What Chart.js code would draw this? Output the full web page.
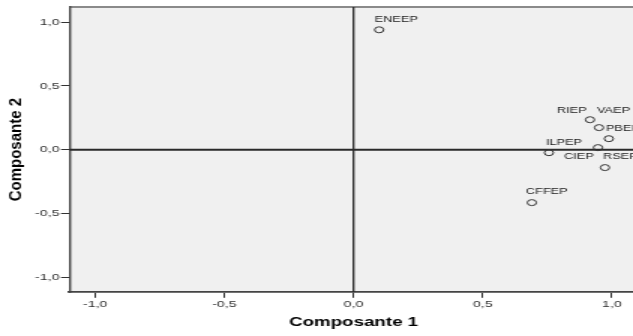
<!DOCTYPE html>
<html>
<head>
<meta charset="utf-8">
<script src="https://cdn.jsdelivr.net/npm/chart.js@4.4.1/dist/chart.umd.min.js"></script>
<style>
  html, body { margin: 0; padding: 0; background: #ffffff; overflow: hidden; width: 633px; height: 336px; }
  #wrap { position: absolute; left: 0; top: 0; width: 432px; height: 336px; transform: scaleX(1.5); transform-origin: 0 0; }
</style>
</head>
<body>
<div id="wrap"><canvas id="c"></canvas></div>
<script>
// ---- data ----
const labels = ['ENEEP', 'RIEP', 'VAEP', 'PBEP', 'CIEP', 'ILPEP', 'RSEP', 'CFFEP'];
const comp1  = [0.099, 0.915, 0.950, 0.988, 0.946, 0.756, 0.973, 0.690];
const comp2  = [0.941, 0.235, 0.173, 0.086, 0.016, -0.024, -0.141, -0.416];
const xTicks = [-1, -0.5, 0, 0.5, 1];
const yTicks = [-1, -0.5, 0, 0.5, 1];
const xTickLabels = ['-1,0', '-0,5', '0,0', '0,5', '1,0'];
const yTickLabels = ['-1,0', '-0,5', '0,0', '0,5', '1,0'];
const xTitle = 'Composante 1';
const yTitle = 'Composante 2';

const points = labels.map((l, i) => ({ x: comp1[i], y: comp2[i] }));

const FONT = '"Liberation Sans", Arial, sans-serif';

const framePlugin = {
  id: 'frame',
  beforeDraw(chart) {
    const { ctx, chartArea: a } = chart;
    ctx.save();
    ctx.fillStyle = '#f0f0f0';
    ctx.fillRect(a.left, a.top, a.right - a.left, a.bottom - a.top);
    ctx.strokeStyle = '#8a8a8a';
    ctx.lineWidth = 2;
    ctx.beginPath();
    ctx.moveTo(a.left, a.top);
    ctx.lineTo(a.right + 10, a.top);
    ctx.stroke();
    ctx.restore();
  },
  beforeDatasetsDraw(chart) {
    const { ctx, chartArea: a, scales } = chart;
    const x0 = scales.x.getPixelForValue(0);
    const y0 = scales.y.getPixelForValue(0);
    ctx.save();
    ctx.strokeStyle = '#2a2a2a';
    ctx.lineWidth = 1.3;
    ctx.beginPath();
    ctx.moveTo(x0, a.top);
    ctx.lineTo(x0, a.bottom);
    ctx.stroke();
    ctx.lineWidth = 2;
    ctx.beginPath();
    ctx.moveTo(a.left, y0);
    ctx.lineTo(a.right, y0);
    ctx.stroke();
    ctx.restore();
  },
  afterDraw(chart, args, opts) {
    // vertical axis title, drawn with a narrower glyph height to match the reference
    const { ctx, chartArea: a } = chart;
    ctx.save();
    ctx.translate(opts.yTitleX, (a.top + a.bottom) / 2);
    ctx.rotate(-Math.PI / 2);
    ctx.scale(1, opts.yTitleSquash);
    ctx.font = 'bold 15px ' + FONT;
    ctx.fillStyle = '#000000';
    ctx.textAlign = 'center';
    ctx.textBaseline = 'middle';
    ctx.fillText(yTitle, 0, 0);
    ctx.restore();
  }
};

const pointLabelPlugin = {
  id: 'pointLabels',
  afterDatasetsDraw(chart, args, opts) {
    const { ctx } = chart;
    const meta = chart.getDatasetMeta(0);
    ctx.save();
    ctx.font = opts.font;
    ctx.fillStyle = opts.color;
    ctx.textAlign = 'left';
    ctx.textBaseline = 'middle';
    meta.data.forEach((el, i) => {
      const off = opts.offsets[labels[i]] || [0, -10];
      ctx.fillText(labels[i], el.x + off[0], el.y + off[1]);
    });
    ctx.restore();
  }
};

new Chart(document.getElementById('c'), {
  type: 'scatter',
  data: {
    datasets: [{
      data: points,
      pointStyle: 'circle',
      pointRadius: 3,
      pointBorderWidth: 1,
      borderColor: '#333333',
      backgroundColor: 'rgba(0,0,0,0)',
      pointBackgroundColor: 'rgba(0,0,0,0)'
    }]
  },
  options: {
    responsive: true,
    maintainAspectRatio: false,
    animation: false,
    events: [],
    layout: { padding: { top: 7, right: 6.8, left: 0, bottom: 0 } },
    plugins: {
      legend: { display: false },
      tooltip: { enabled: false },
      frame: { yTitleX: 11.5, yTitleSquash: 0.7 },
      pointLabels: {
        font: '8.5px ' + FONT,
        color: '#222222',
        offsets: {
          ENEEP: [-3, -10.5],
          RIEP: [-22, -9],
          VAEP: [-1.3, -17],
          PBEP: [-2, -10],
          CIEP: [-22.7, 9],
          ILPEP: [-2, -10],
          RSEP: [-1.3, -11],
          CFFEP: [-4, -11]
        }
      }
    },
    scales: {
      x: {
        type: 'linear',
        min: -1.1,
        max: 1.1,
        afterBuildTicks: s => { s.ticks = xTicks.map(v => ({ value: v })); },
        afterFit: s => { s.height = 43.7; },
        ticks: {
          callback: (v, i) => xTickLabels[i],
          font: { family: FONT, size: 9.5 },
          color: '#333333',
          padding: 1,
          maxRotation: 0,
          autoSkip: false
        },
        grid: { drawOnChartArea: false, drawTicks: true, tickLength: 5.5, color: '#333333', lineWidth: 1 },
        border: { display: true, color: '#444444', width: 1.8 },
        title: {
          display: true,
          text: xTitle,
          font: { family: FONT, size: 12.5, weight: 'bold' },
          color: '#000000',
          padding: { top: 4, bottom: 5.5 }
        }
      },
      y: {
        type: 'linear',
        min: -1.12,
        max: 1.12,
        afterBuildTicks: s => { s.ticks = yTicks.map(v => ({ value: v })); },
        afterFit: s => { s.width = 46.2; },
        ticks: {
          callback: (v, i) => yTickLabels[i],
          font: { family: FONT, size: 9.5 },
          color: '#333333',
          padding: 1,
          autoSkip: false
        },
        grid: { drawOnChartArea: false, drawTicks: true, tickLength: 5.5, color: '#333333', lineWidth: 1 },
        border: { display: true, color: '#444444', width: 1.4 },
        title: { display: false }
      }
    }
  },
  plugins: [framePlugin, pointLabelPlugin]
});
</script>
</body>
</html>
